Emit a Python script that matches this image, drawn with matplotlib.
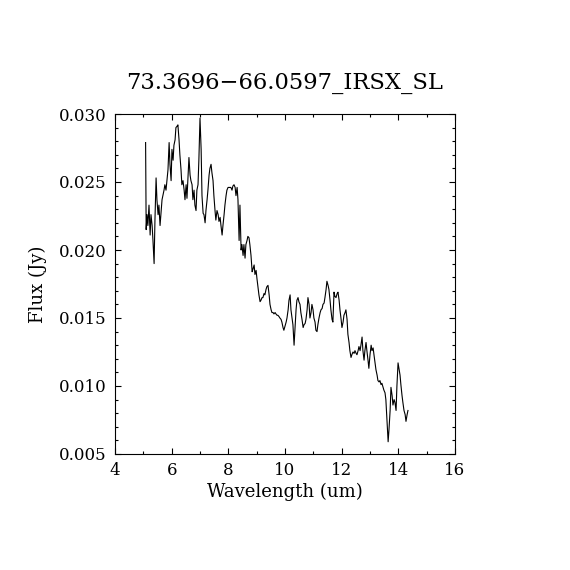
import matplotlib
matplotlib.use("Agg")
import matplotlib.pyplot as plt
from matplotlib.ticker import MultipleLocator, FormatStrFormatter

# spectrum
wavelength = [
    5.08, 5.10, 5.13, 5.16, 5.20, 5.24, 5.27, 5.31, 5.34, 5.38, 5.41, 5.45, 5.48, 5.52, 5.55,
    5.59, 5.62, 5.66, 5.69, 5.73, 5.76, 5.80, 5.84, 5.87, 5.91, 5.94, 5.98, 6.01, 6.05, 6.08,
    6.12, 6.15, 6.19, 6.22, 6.26, 6.29, 6.33, 6.36, 6.40, 6.44, 6.47, 6.51, 6.54, 6.58, 6.61,
    6.65, 6.68, 6.72, 6.75, 6.79, 6.82, 6.86, 6.89, 6.93, 6.96, 7.00, 7.04, 7.07, 7.11, 7.14,
    7.18, 7.21, 7.25, 7.28, 7.32, 7.35, 7.39, 7.42, 7.46, 7.49, 7.53, 7.56, 7.60, 7.64, 7.67,
    7.71, 7.74, 7.78, 7.81, 7.85, 7.88, 7.92, 7.95, 7.99, 8.02, 8.06, 8.09, 8.13, 8.16, 8.20,
    8.24, 8.27, 8.31, 8.34, 8.38, 8.41, 8.45, 8.48, 8.52, 8.55, 8.59, 8.62, 8.66, 8.69, 8.73,
    8.76, 8.80, 8.84, 8.87, 8.91, 8.94, 8.98, 9.01, 9.05, 9.08, 9.12, 9.15, 9.19, 9.22, 9.26,
    9.29, 9.33, 9.36, 9.40, 9.44, 9.47, 9.51, 9.54, 9.58, 9.61, 9.65, 9.68, 9.72, 9.75, 9.79,
    9.82, 9.86, 9.89, 9.93, 9.96, 10.00, 10.04, 10.07, 10.11, 10.14, 10.18, 10.21, 10.25, 10.28, 10.32,
    10.35, 10.39, 10.42, 10.46, 10.49, 10.53, 10.56, 10.60, 10.64, 10.67, 10.71, 10.74, 10.78, 10.81, 10.85,
    10.88, 10.92, 10.95, 10.99, 11.02, 11.06, 11.09, 11.13, 11.16, 11.20, 11.24, 11.27, 11.31, 11.34, 11.38,
    11.41, 11.45, 11.48, 11.52, 11.55, 11.59, 11.62, 11.66, 11.69, 11.73, 11.76, 11.80, 11.84, 11.87, 11.91,
    11.94, 11.98, 12.01, 12.05, 12.08, 12.12, 12.15, 12.19, 12.22, 12.26, 12.29, 12.33, 12.36, 12.40, 12.44,
    12.47, 12.51, 12.54, 12.58, 12.61, 12.65, 12.68, 12.72, 12.75, 12.79, 12.82, 12.86, 12.89, 12.93, 12.96,
    13.00, 13.04, 13.07, 13.11, 13.14, 13.18, 13.21, 13.25, 13.28, 13.32, 13.35, 13.39, 13.42, 13.46, 13.49,
    13.53, 13.56, 13.60, 13.64, 13.67, 13.71, 13.74, 13.78, 13.81, 13.85, 13.88, 13.92, 13.95, 13.99, 14.02,
    14.06, 14.09, 14.13, 14.16, 14.20, 14.24, 14.27, 14.31, 14.34,
]
flux = [
    0.0279, 0.0215, 0.0226, 0.0218, 0.0233, 0.0211, 0.0226, 0.0218, 0.0207, 0.0190, 0.0222, 0.0253, 0.0237, 0.0226, 0.0233,
    0.0218, 0.0226, 0.0237, 0.0240, 0.0244, 0.0248, 0.0244, 0.0253, 0.0259, 0.0279, 0.0263, 0.0251, 0.0274, 0.0266, 0.0277,
    0.0281, 0.0290, 0.0291, 0.0292, 0.0281, 0.0270, 0.0259, 0.0248, 0.0251, 0.0244, 0.0237, 0.0248, 0.0238, 0.0255, 0.0268,
    0.0255, 0.0251, 0.0248, 0.0237, 0.0244, 0.0233, 0.0229, 0.0244, 0.0248, 0.0266, 0.0297, 0.0274, 0.0240, 0.0227, 0.0226,
    0.0220, 0.0229, 0.0237, 0.0244, 0.0255, 0.0260, 0.0263, 0.0257, 0.0251, 0.0240, 0.0229, 0.0222, 0.0229, 0.0226, 0.0221,
    0.0224, 0.0218, 0.0211, 0.0218, 0.0226, 0.0233, 0.0240, 0.0244, 0.0246, 0.0246, 0.0246, 0.0246, 0.0244, 0.0247, 0.0248,
    0.0246, 0.0240, 0.0246, 0.0237, 0.0207, 0.0233, 0.0200, 0.0204, 0.0196, 0.0204, 0.0194, 0.0204, 0.0207, 0.0210, 0.0209,
    0.0204, 0.0196, 0.0184, 0.0186, 0.0189, 0.0182, 0.0185, 0.0179, 0.0172, 0.0167, 0.0162, 0.0163, 0.0165, 0.0165, 0.0168,
    0.0167, 0.0171, 0.0173, 0.0174, 0.0167, 0.0160, 0.0156, 0.0154, 0.0154, 0.0153, 0.0154, 0.0153, 0.0152, 0.0152, 0.0151,
    0.0150, 0.0149, 0.0147, 0.0143, 0.0141, 0.0144, 0.0147, 0.0150, 0.0156, 0.0163, 0.0167, 0.0156, 0.0150, 0.0145, 0.0130,
    0.0141, 0.0156, 0.0163, 0.0165, 0.0162, 0.0160, 0.0154, 0.0149, 0.0143, 0.0145, 0.0146, 0.0149, 0.0156, 0.0165, 0.0160,
    0.0150, 0.0154, 0.0160, 0.0156, 0.0150, 0.0147, 0.0141, 0.0140, 0.0145, 0.0150, 0.0154, 0.0156, 0.0157, 0.0160, 0.0161,
    0.0165, 0.0171, 0.0177, 0.0174, 0.0171, 0.0163, 0.0156, 0.0149, 0.0147, 0.0169, 0.0166, 0.0165, 0.0168, 0.0169, 0.0163,
    0.0156, 0.0149, 0.0143, 0.0147, 0.0152, 0.0154, 0.0156, 0.0149, 0.0138, 0.0132, 0.0126, 0.0121, 0.0123, 0.0125, 0.0124,
    0.0126, 0.0124, 0.0123, 0.0126, 0.0129, 0.0126, 0.0130, 0.0136, 0.0126, 0.0119, 0.0126, 0.0132, 0.0126, 0.0119, 0.0113,
    0.0123, 0.0130, 0.0126, 0.0128, 0.0123, 0.0117, 0.0112, 0.0108, 0.0104, 0.0103, 0.0104, 0.0101, 0.0102, 0.0099, 0.0097,
    0.0095, 0.0090, 0.0075, 0.0059, 0.0068, 0.0082, 0.0099, 0.0093, 0.0086, 0.0090, 0.0088, 0.0082, 0.0100, 0.0117, 0.0113,
    0.0108, 0.0101, 0.0093, 0.0088, 0.0082, 0.0079, 0.0074, 0.0079, 0.0082,
]

title = "73.3696\u221266.0597_IRSX_SL"

plt.rcParams['font.family'] = ['DejaVu Serif']

fig = plt.figure(figsize=(5.7, 5.7), dpi=100)
ax = fig.add_axes([115 / 570, 116 / 570, 340 / 570, 340 / 570])

ax.plot(wavelength, flux, color='black', linewidth=0.8)

ax.set_xlim(4, 16)
ax.set_ylim(0.005, 0.030)
ax.xaxis.set_major_locator(MultipleLocator(2))
ax.xaxis.set_minor_locator(MultipleLocator(1))
ax.yaxis.set_major_locator(MultipleLocator(0.005))
ax.yaxis.set_minor_locator(MultipleLocator(0.001))
ax.yaxis.set_major_formatter(FormatStrFormatter('%.3f'))

ax.tick_params(which='both', direction='in', top=True, right=True, labelsize=12, width=0.8)
ax.tick_params(which='major', length=4.5, pad=6)
ax.tick_params(which='minor', length=2)
for s in ax.spines.values():
    s.set_linewidth(0.8)

ax.set_xlabel('Wavelength (um)', fontsize=13, va='center')
ax.xaxis.set_label_coords(0.5, -0.112)
ax.set_ylabel('Flux (Jy)', fontsize=13, va='center')
ax.yaxis.set_label_coords(-0.226, 0.5)
fig.text(0.5, 1 - 83 / 570, title, ha='center', va='center', fontsize=16.3)

fig.savefig('out.png', dpi=100, facecolor='white')
